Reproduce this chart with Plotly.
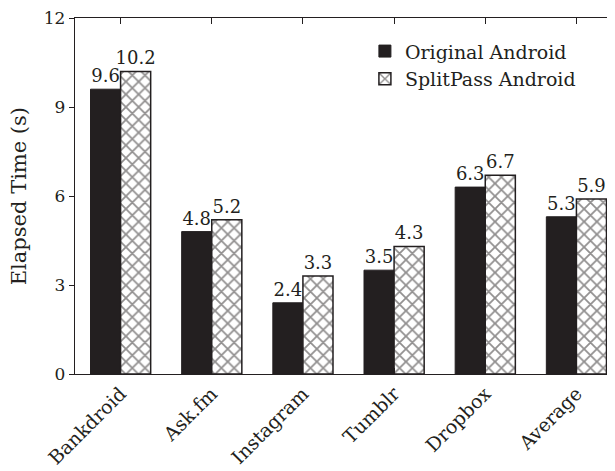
import plotly.graph_objects as go

categories = ["Bankdroid", "Ask.fm", "Instagram", "Tumblr", "Dropbox", "Average"]
original = [9.6, 4.8, 2.4, 3.5, 6.3, 5.3]
splitpass = [10.2, 5.2, 3.3, 4.3, 6.7, 5.9]
y_ticks = [0, 3, 6, 9, 12]

FONT = "DejaVu Serif"
INK = "#231f20"

fig = go.Figure()
fig.add_trace(go.Bar(
    x=categories, y=original, name="Original Android",
    marker=dict(color=INK, line=dict(color=INK, width=1)),
    text=[f"{v:.1f}" for v in original], textposition="outside",
    constraintext="none",
    textfont=dict(family=FONT, size=18, color=INK), cliponaxis=False,
))
fig.add_trace(go.Bar(
    x=categories, y=splitpass, name="SplitPass Android",
    marker=dict(color="white", line=dict(color=INK, width=1.5),
                pattern=dict(shape="x", fgcolor=INK, bgcolor="white",
                             size=9, solidity=0.35)),
    text=[f"{v:.1f}" for v in splitpass], textposition="outside",
    constraintext="none",
    textfont=dict(family=FONT, size=18, color=INK), cliponaxis=False,
))

fig.update_layout(
    width=615, height=471,
    margin=dict(l=67, r=1, t=10, b=105),
    paper_bgcolor="white", plot_bgcolor="white",
    barmode="group", bargap=0.34, bargroupgap=0,
    font=dict(family=FONT, size=19, color=INK),
    showlegend=True,
    legend=dict(x=0.53, y=0.96, xanchor="left", yanchor="top",
                bgcolor="rgba(0,0,0,0)", font=dict(family=FONT, size=19),
                itemwidth=30, tracegroupgap=0),
    annotations=[dict(
        text="Elapsed Time (s)", xref="paper", yref="paper",
        x=-0.102, y=0.5, xanchor="center", yanchor="middle",
        textangle=-90, showarrow=False, font=dict(family=FONT, size=21, color=INK),
    )],
)
fig.update_xaxes(
    range=[-0.5, 5.5], showline=True, linecolor=INK, linewidth=1.3,
    mirror="ticks", ticks="inside", ticklen=6, tickcolor=INK,
    tickangle=-45, tickfont=dict(family=FONT, size=19), showgrid=False,
    automargin=False,
)
fig.update_yaxes(
    range=[0, 12], tickvals=y_ticks, showline=True, linecolor=INK,
    linewidth=1.3, ticks="outside", ticklen=5, tickcolor=INK,
    tickfont=dict(family=FONT, size=17), showgrid=False, zeroline=False,
    automargin=False, ticklabeloverflow="allow",
)

fig.write_html("out.html")
